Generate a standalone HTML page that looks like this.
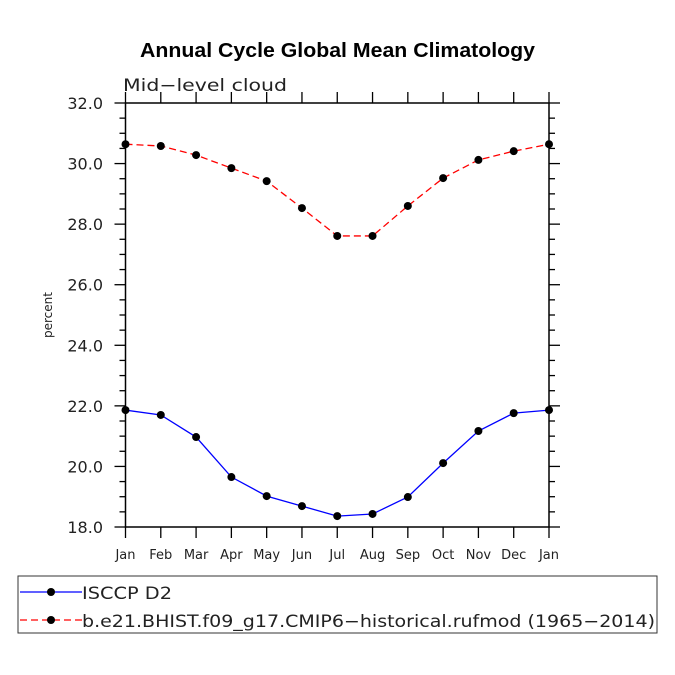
<!DOCTYPE html>
<html><head><meta charset="utf-8"><style>
body{margin:0;background:#fff}
svg{display:block;font-family:"DejaVu Sans","Liberation Sans",sans-serif}
</style></head><body>
<svg id="chart" width="675" height="675" viewBox="0 0 675 675">
<text x="140" y="57" font-family="Liberation Sans, sans-serif" font-weight="bold" font-size="20" textLength="395" lengthAdjust="spacingAndGlyphs">Annual Cycle Global Mean Climatology</text>
<text x="123" y="91" font-size="17" fill="#222" textLength="164" lengthAdjust="spacingAndGlyphs">Mid−level cloud</text>
<text transform="translate(52,315) rotate(-90)" text-anchor="middle" font-size="12" fill="#222">percent</text>
<g id="axes"></g>
<g id="series"></g>
<rect x="18" y="576" width="639" height="57" fill="none" stroke="#333" stroke-width="1"/>
<g>
<line x1="20" y1="592" x2="82" y2="592" stroke="#0000ff" stroke-width="1.3"/>
<circle cx="51" cy="592" r="4" fill="#000"/>
<text x="82" y="599" font-size="17" fill="#222" textLength="90" lengthAdjust="spacingAndGlyphs">ISCCP D2</text>
</g>
<g>
<line x1="20" y1="620" x2="82" y2="620" stroke="#ff0000" stroke-width="1.3" stroke-dasharray="7,4"/>
<circle cx="51" cy="620" r="4" fill="#000"/>
<text x="82" y="627" font-size="17" fill="#222" textLength="573" lengthAdjust="spacingAndGlyphs">b.e21.BHIST.f09_g17.CMIP6−historical.rufmod (1965−2014)</text>
</g>
</svg>
<script>
const months=["Jan","Feb","Mar","Apr","May","Jun","Jul","Aug","Sep","Oct","Nov","Dec","Jan"];
const yTicks=[18,20,22,24,26,28,30,32];
const isccp=[21.86,21.70,20.97,19.65,19.02,18.69,18.36,18.43,18.99,20.11,21.17,21.76,21.86];
const model=[30.64,30.58,30.28,29.85,29.42,28.53,27.61,27.61,28.60,29.52,30.12,30.41,30.64];
const L=125.5,R=549,T=103,B=527,ymin=18,ymax=32;
const NS="http://www.w3.org/2000/svg";
function x(i){return L+(R-L)*i/12;}
function y(v){return B-(B-T)*(v-ymin)/(ymax-ymin);}
function mk(t,a,p){const e=document.createElementNS(NS,t);for(const k in a)e.setAttribute(k,a[k]);p.appendChild(e);return e;}
const ax=document.getElementById('axes');
const frame=mk('rect',{x:L,y:T,width:R-L,height:B-T,fill:'none',stroke:'#000','stroke-width':1.5},ax);


for(let i=0;i<months.length;i++){
  mk('line',{x1:x(i),y1:B,x2:x(i),y2:B+11,stroke:'#000','stroke-width':1.3},ax);
  mk('line',{x1:x(i),y1:T,x2:x(i),y2:T-11,stroke:'#000','stroke-width':1.3},ax);
  const t=mk('text',{x:x(i),y:559,'text-anchor':'middle','font-size':13,fill:'#222'},ax);
  t.textContent=months[i];
  
  
}
for(let v=ymin;v<=ymax+1e-9;v+=0.5){
  const major=Math.abs(v-Math.round(v/2)*2)<1e-9;
  const len=major?11:6;
  mk('line',{x1:L,y1:y(v),x2:L-len,y2:y(v),stroke:'#000','stroke-width':1.3},ax);
  mk('line',{x1:R,y1:y(v),x2:R+len,y2:y(v),stroke:'#000','stroke-width':1.3},ax);
}
yTicks.forEach(v=>{
  const t=mk('text',{x:103,y:y(v)+6,'text-anchor':'end','font-size':16,fill:'#222'},ax);
  t.textContent=v.toFixed(1);
  
  
});
const sg=document.getElementById('series');
function draw(vals,color,dash,name){
  const g=mk('g',{},sg);
  
  
  const pl=mk('polyline',{points:vals.map((v,i)=>x(i)+','+y(v)).join(' '),fill:'none',stroke:color,'stroke-width':1.3},g);
  if(dash)pl.setAttribute('stroke-dasharray',dash);
  vals.forEach((v,i)=>{
    const c=mk('circle',{cx:x(i),cy:y(v),r:4,fill:'#000'},g);
    
    
  });
}
draw(isccp,'#0000ff',null,'series-isccp');
draw(model,'#ff0000','7,4','series-model');
</script>
</body></html>
